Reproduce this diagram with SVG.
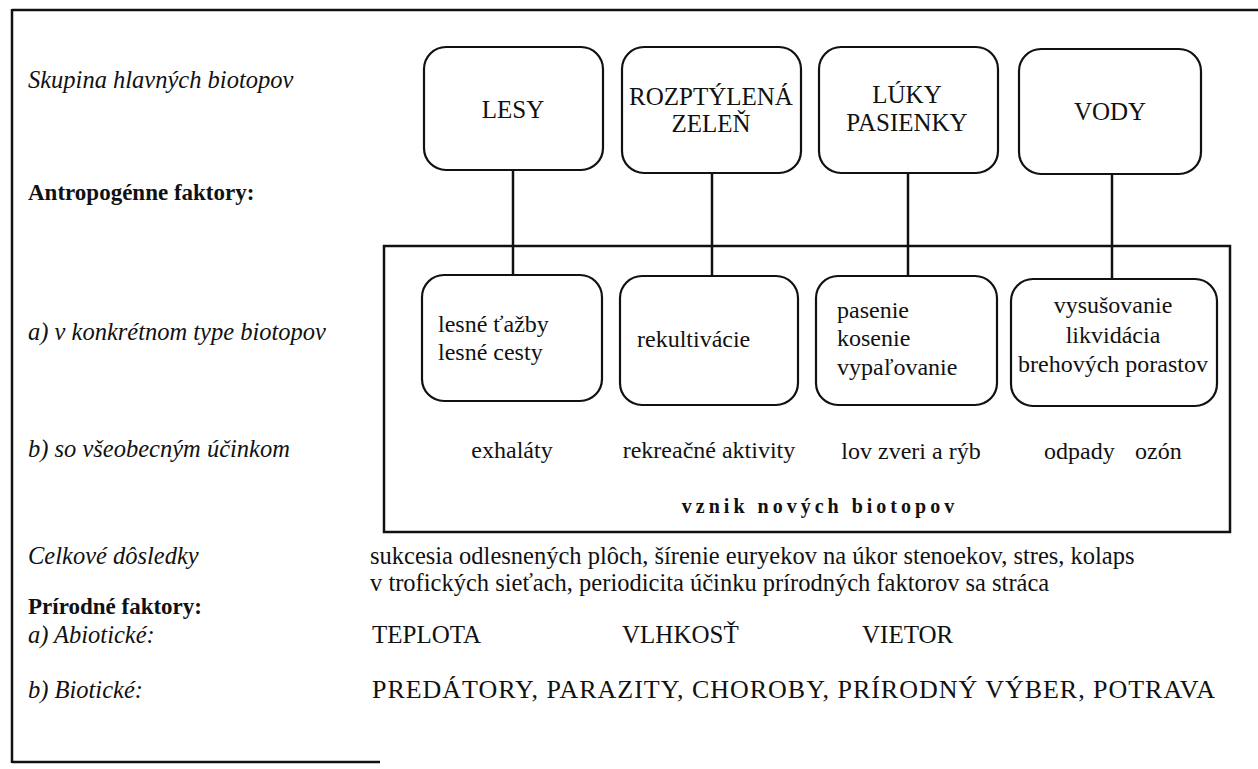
<svg xmlns="http://www.w3.org/2000/svg" width="1258" height="769" viewBox="0 0 1258 769">
<style>
text{font-family:"Liberation Serif","Times New Roman",serif;fill:#111}
.lbl{font-style:italic;font-size:24.5px}
.bld{font-weight:bold;font-size:23px}
.top{font-size:25px;text-anchor:middle}
.mid{font-size:24px}
.c{text-anchor:middle}
.box{fill:#fff;stroke:#111;stroke-width:2.2}
.frame{fill:none;stroke:#111;stroke-width:2.5}
.conn line{stroke:#111;stroke-width:2.5}
.caps{font-size:25px}
.cons{font-size:24.5px}
.capsb{font-size:26px}
</style>
<rect width="1258" height="769" fill="#fff"/>
<g id="frame">
<line class="frame" x1="12" y1="10" x2="1258" y2="10"/>
<line class="frame" x1="12" y1="9" x2="12" y2="763"/>
<line class="frame" x1="12" y1="762" x2="380" y2="762" stroke="#444"/>
</g>
<g id="labels">
<text class="lbl" x="28" y="88">Skupina hlavných biotopov</text>
<text class="bld" x="28" y="200">Antropogénne faktory:</text>
<text class="lbl" x="28" y="340">a) v konkrétnom type biotopov</text>
<text class="lbl" x="28" y="457">b) so všeobecným účinkom</text>
<text class="lbl" x="28" y="564">Celkové dôsledky</text>
<text class="bld" x="28" y="614">Prírodné faktory:</text>
<text class="lbl" x="28" y="643">a) Abiotické:</text>
<text class="lbl" x="28" y="698">b) Biotické:</text>
</g>
<g id="anthropogenic-area">
<rect class="frame" x="384" y="246" width="846" height="286"/>
</g>
<g class="conn" id="connectors">
<line x1="513" y1="170" x2="513" y2="276"/>
<line x1="712" y1="173" x2="712" y2="277"/>
<line x1="908" y1="173" x2="908" y2="277"/>
<line x1="1112" y1="174" x2="1112" y2="280"/>
</g>
<g id="lesy">
<rect class="box" x="424" y="47" width="179" height="123" rx="22"/>
<text class="top" x="513" y="118">LESY</text>
</g>
<g id="rozptylena-zelen">
<rect class="box" x="622" y="47" width="179" height="126" rx="22"/>
<text class="top" x="711" y="105">ROZPTÝLENÁ</text>
<text class="top" x="711" y="132">ZELEŇ</text>
</g>
<g id="luky-pasienky">
<rect class="box" x="819" y="47" width="179" height="126" rx="22"/>
<text class="top" x="907" y="103">LÚKY</text>
<text class="top" x="907" y="131">PASIENKY</text>
</g>
<g id="vody">
<rect class="box" x="1019" y="49" width="182" height="125" rx="22"/>
<text class="top" x="1110" y="120">VODY</text>
</g>
<g id="lesne-tazby">
<rect class="box" x="422" y="275" width="180" height="126" rx="22"/>
<text class="mid" x="438" y="332">lesné ťažby</text>
<text class="mid" x="438" y="360">lesné cesty</text>
</g>
<g id="rekultivacie">
<rect class="box" x="620" y="276" width="178" height="129" rx="22"/>
<text class="mid" x="637" y="347">rekultivácie</text>
</g>
<g id="pasenie">
<rect class="box" x="816" y="276" width="181" height="129" rx="22"/>
<text class="mid" x="837" y="318">pasenie</text>
<text class="mid" x="837" y="346">kosenie</text>
<text class="mid" x="837" y="375">vypaľovanie</text>
</g>
<g id="vysusovanie">
<rect class="box" x="1011" y="279" width="206" height="127" rx="22"/>
<text class="mid c" x="1113" y="313">vysušovanie</text>
<text class="mid c" x="1113" y="343">likvidácia</text>
<text class="mid c" x="1113" y="372">brehových porastov</text>
</g>
<g id="general-effects">
<text class="mid c" x="512" y="458">exhaláty</text>
<text class="mid c" x="709" y="458">rekreačné aktivity</text>
<text class="mid c" x="911" y="459">lov zveri a rýb</text>
<text class="mid" x="1044" y="459">odpady</text>
<text class="mid" x="1135" y="459">ozón</text>
<text x="820" y="513" text-anchor="middle" font-weight="bold" font-size="20" letter-spacing="4">vznik nových biotopov</text>
</g>
<g id="consequences">
<text class="cons" x="370" y="564">sukcesia odlesnených plôch, šírenie euryekov na úkor stenoekov, stres, kolaps</text>
<text class="cons" x="370" y="591">v trofických sieťach, periodicita účinku prírodných faktorov sa stráca</text>
</g>
<g id="natural-factors">
<text class="caps" x="372" y="643">TEPLOTA</text>
<text class="caps" x="622" y="643">VLHKOSŤ</text>
<text class="caps" x="862" y="643">VIETOR</text>
<text class="capsb" x="372" y="698" textLength="843">PREDÁTORY, PARAZITY, CHOROBY, PRÍRODNÝ VÝBER, POTRAVA</text>
</g>
</svg>
